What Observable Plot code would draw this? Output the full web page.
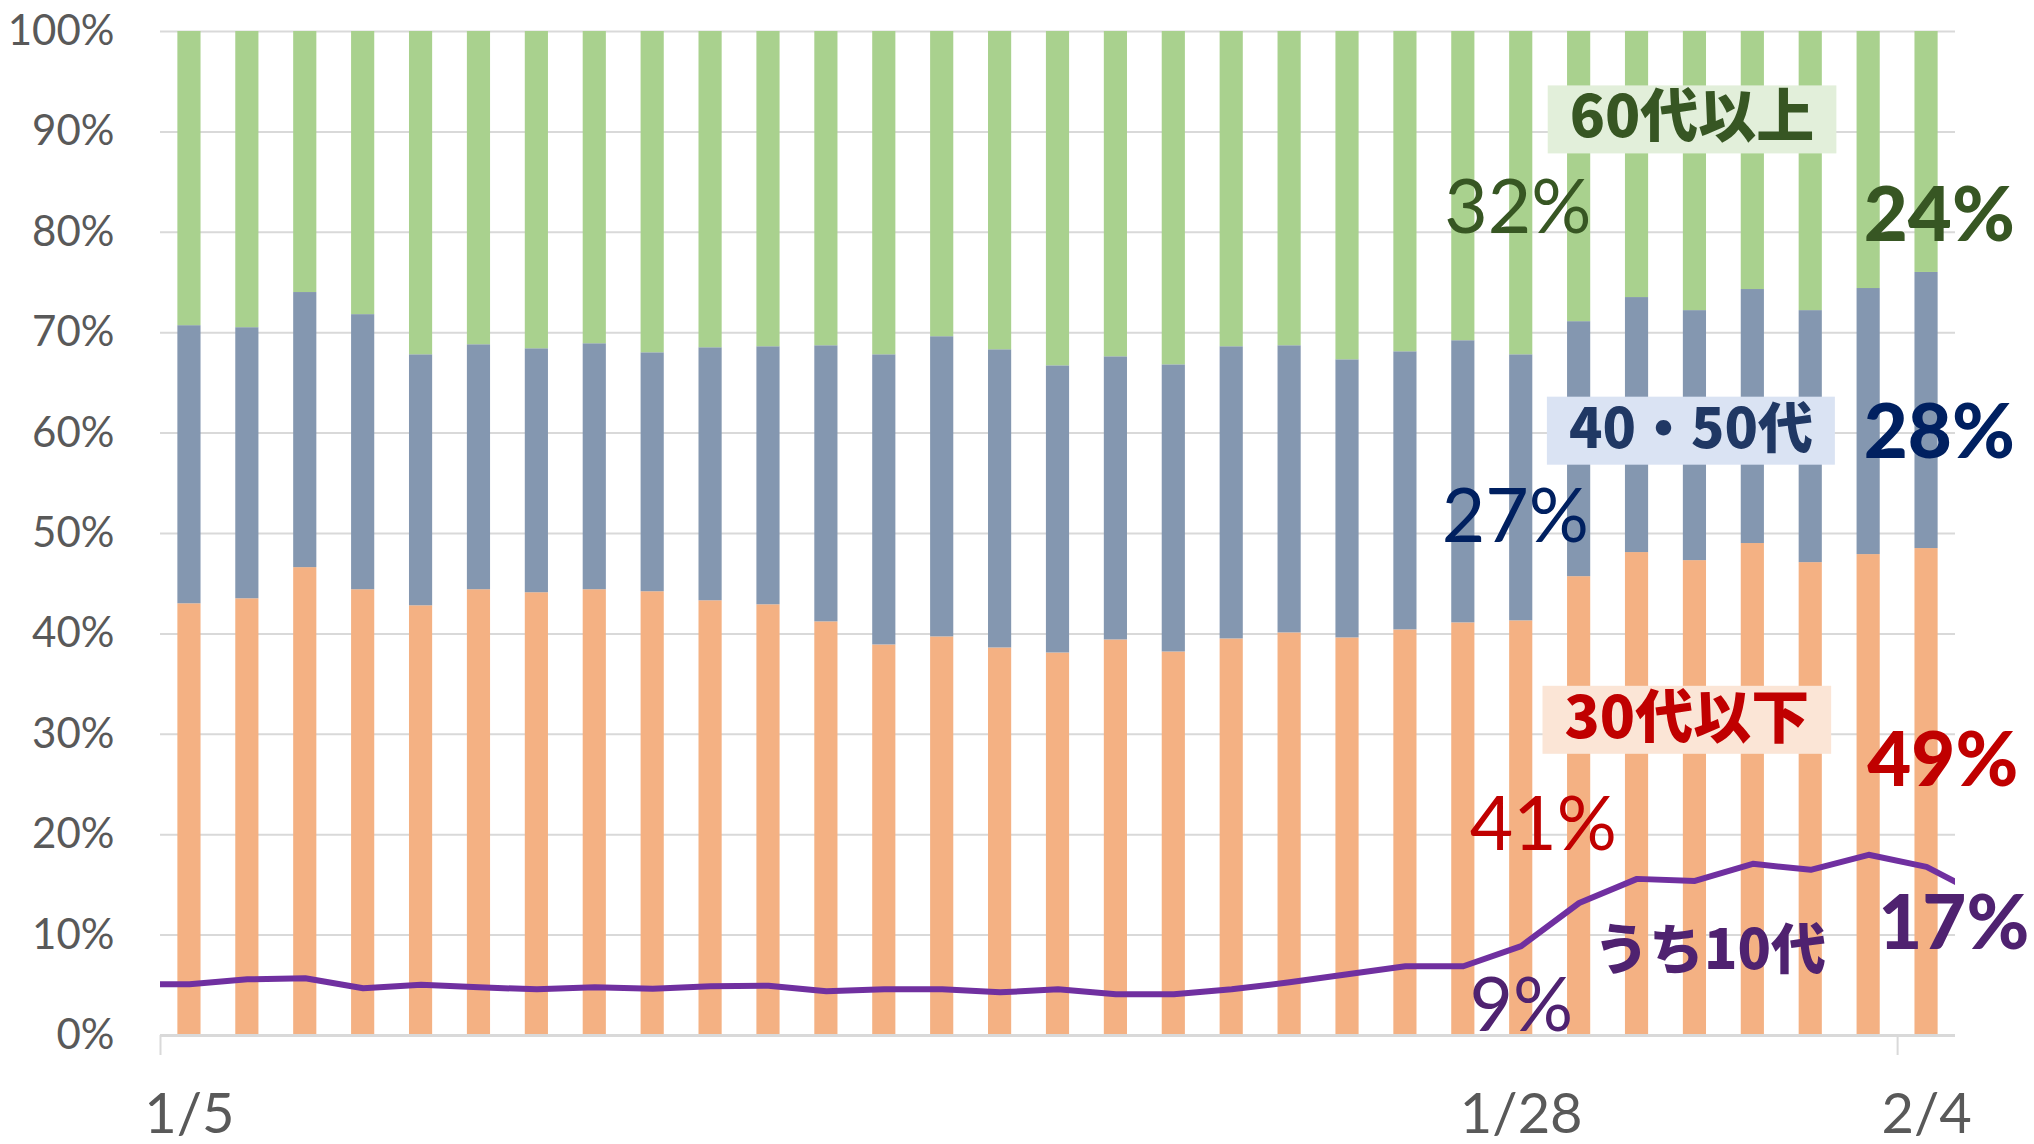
<!DOCTYPE html>
<html>
<head>
<meta charset="utf-8">
<script src="https://cdn.jsdelivr.net/npm/d3@7"></script>
<script src="https://cdn.jsdelivr.net/npm/@observablehq/plot@0.6"></script>
<style>
  html, body { margin: 0; padding: 0; background: #ffffff; }
  svg { display: block; }
</style>
</head>
<body>
<script>
// ---- Data (percent shares) ----
const dates = ["1/5","1/6","1/7","1/8","1/9","1/10","1/11","1/12","1/13","1/14","1/15","1/16","1/17","1/18","1/19","1/20","1/21","1/22","1/23","1/24","1/25","1/26","1/27","1/28","1/29","1/30","1/31","2/1","2/2","2/3","2/4"];
const groups = ["30代以下", "40・50代", "60代以上"];
const under30 = [43.0,43.5,46.6,44.4,42.8,44.4,44.1,44.4,44.2,43.3,42.9,41.2,38.9,39.7,38.6,38.1,39.4,38.2,39.5,40.1,39.6,40.4,41.1,41.3,45.7,48.1,47.3,49.0,47.1,47.9,48.5];
const age40to50 = [27.7,27.0,27.4,27.4,25.0,24.4,24.3,24.5,23.8,25.2,25.7,27.5,28.9,29.9,29.7,28.6,28.2,28.6,29.1,28.6,27.7,27.7,28.1,26.5,25.4,25.4,24.9,25.3,25.1,26.5,27.5];
const over60 = [29.3,29.5,26.0,28.2,32.2,31.2,31.6,31.1,32.0,31.5,31.4,31.3,32.2,30.4,31.7,33.3,32.4,33.2,31.4,31.3,32.7,31.9,30.8,32.2,28.9,26.5,27.8,25.7,27.8,25.6,24.0];
// うち10代 (teens) share; the line runs past both ends of the plot (1/4 and 2/5 are clipped)
const teenDates = ["1/4", ...dates, "2/5"];
const teens = [5.1, 5.1,5.6,5.7,4.7,5.05,4.8,4.6,4.8,4.65,4.9,4.95,4.4,4.6,4.6,4.3,4.6,4.1,4.1,4.6,5.3,6.1,6.9,6.9,8.9,13.2,15.6,15.4,17.1,16.5,18.0,16.8, 13.8];
const yTicks = [0,0.1,0.2,0.3,0.4,0.5,0.6,0.7,0.8,0.9,1.0];
const xLabelDates = ["1/5","1/28","2/4"];

// ---- Build tables ----
const series = [under30, age40to50, over60];
const rows = [];
dates.forEach((d, i) => {
  let acc = 0;
  series.forEach((s, k) => {
    const v = s[i] / 100;
    rows.push({i, date: d, group: groups[k], y1: acc, y2: acc + v});
    acc += v;
  });
});
const teenRows = teenDates.map((d, j) => ({i: j - 1, date: d, v: teens[j] / 100}));
const idx = d => dates.indexOf(d);

const gray = "#595959";
const green = "#375623", navy = "#002060", red = "#C00000", purple = "#4F2270";
const pctFont = "Lato, 'Noto Sans', sans-serif";
const cjkFont = "'Noto Sans CJK JP', 'Noto Sans', sans-serif";

const chart = Plot.plot({
  width: 2034,
  height: 1144,
  marginLeft: 160,
  marginRight: 79,
  marginTop: 31,
  marginBottom: 109,
  style: {fontFamily: pctFont, background: "#ffffff", overflow: "visible"},
  x: {type: "linear", domain: [-0.5, 30.5], label: null},
  y: {domain: [0, 1], label: null},
  color: {domain: groups, range: ["#F4B183", "#8497B0", "#A9D18E"]},
  marks: [
    Plot.ruleY(yTicks.slice(1), {stroke: "#D9D9D9", strokeWidth: 2}),
    Plot.rect(rows, {x1: d => d.i - 0.2, x2: d => d.i + 0.2, y1: "y1", y2: "y2", fill: "group"}),
    Plot.ruleY([0], {stroke: "#D9D9D9", strokeWidth: 3}),
    Plot.line(teenRows, {x: "i", y: "v", stroke: "#7030A0", strokeWidth: 6, clip: true}),
    Plot.axisY(yTicks, {tickSize: 0, tickPadding: 46, tickFormat: d3.format(".0%"), fontSize: 42, fill: gray}),
    Plot.axisX([-0.5, idx("2/4") - 0.5], {tickSize: 20, tickFormat: () => "", stroke: "#D9D9D9", strokeWidth: 2}),
    Plot.axisX(xLabelDates.map(idx), {tickSize: 0, tickPadding: 58, tickFormat: i => dates[i], fontSize: 56, fill: gray}),
    // percent annotations (1/28 and 2/4)
    Plot.text(["32%"], {x: 22.94, y: 0.823, fill: green, fontSize: 75, fontFamily: pctFont, lineAnchor: "middle"}),
    Plot.text(["27%"], {x: 22.9, y: 0.515, fill: navy, fontSize: 75, fontFamily: pctFont, lineAnchor: "middle"}),
    Plot.text(["41%"], {x: 23.38, y: 0.209, fill: red, fontSize: 75, fontFamily: pctFont, lineAnchor: "middle"}),
    Plot.text(["9%"], {x: 23.0, y: 0.028, fill: purple, fontSize: 75, fontFamily: pctFont, lineAnchor: "middle"}),
    Plot.text(["24%"], {x: 30.22, y: 0.816, fill: green, fontSize: 76, fontWeight: 900, fontFamily: pctFont, lineAnchor: "middle"}),
    Plot.text(["28%"], {x: 30.22, y: 0.599, fill: navy, fontSize: 76, fontWeight: 900, fontFamily: pctFont, lineAnchor: "middle"}),
    Plot.text(["49%"], {x: 30.28, y: 0.273, fill: red, fontSize: 76, fontWeight: 900, fontFamily: pctFont, lineAnchor: "middle"}),
    Plot.text(["17%"], {x: 30.47, y: 0.110, fill: purple, fontSize: 76, fontWeight: 900, fontFamily: pctFont, lineAnchor: "middle"}),
    // group labels (boxes are added behind them below)
    Plot.text(["60代以上"], {x: 25.95, y: 0.913, fill: green, fontSize: 58, fontWeight: 900, fontFamily: cjkFont, lineAnchor: "middle"}),
    Plot.text(["40・50代"], {x: 25.93, y: 0.603, fill: "#203864", fontSize: 55, fontWeight: 900, fontFamily: cjkFont, lineAnchor: "middle"}),
    Plot.text(["30代以下"], {x: 25.86, y: 0.315, fill: red, fontSize: 58, fontWeight: 900, fontFamily: cjkFont, lineAnchor: "middle"}),
    Plot.text(["うち10代"], {x: 26.26, y: 0.084, fill: purple, fontSize: 55, fontWeight: 900, fontFamily: cjkFont, lineAnchor: "middle"})
  ]
});

document.body.appendChild(chart);

// light background boxes behind the group labels
const boxFills = {"60代以上": "#E2EFDA", "40・50代": "#DAE3F3", "30代以下": "#FBE5D6"};
Array.from(chart.querySelectorAll("text")).forEach(t => {
  const fill = boxFills[t.textContent.trim()];
  if (!fill) return;
  const b = t.getBBox();
  const w = b.width + 44, h = 68;
  const cx = b.x + b.width / 2, cy = b.y + b.height / 2 + 7;
  const r = document.createElementNS("http://www.w3.org/2000/svg", "rect");
  r.setAttribute("x", cx - w / 2);
  r.setAttribute("y", cy - h / 2);
  r.setAttribute("width", w);
  r.setAttribute("height", h);
  r.setAttribute("fill", fill);
  r.setAttribute("stroke", "none");
  const tr = t.getAttribute("transform");
  if (tr) r.setAttribute("transform", tr);
  t.parentNode.insertBefore(r, t);
});
</script>
</body>
</html>
